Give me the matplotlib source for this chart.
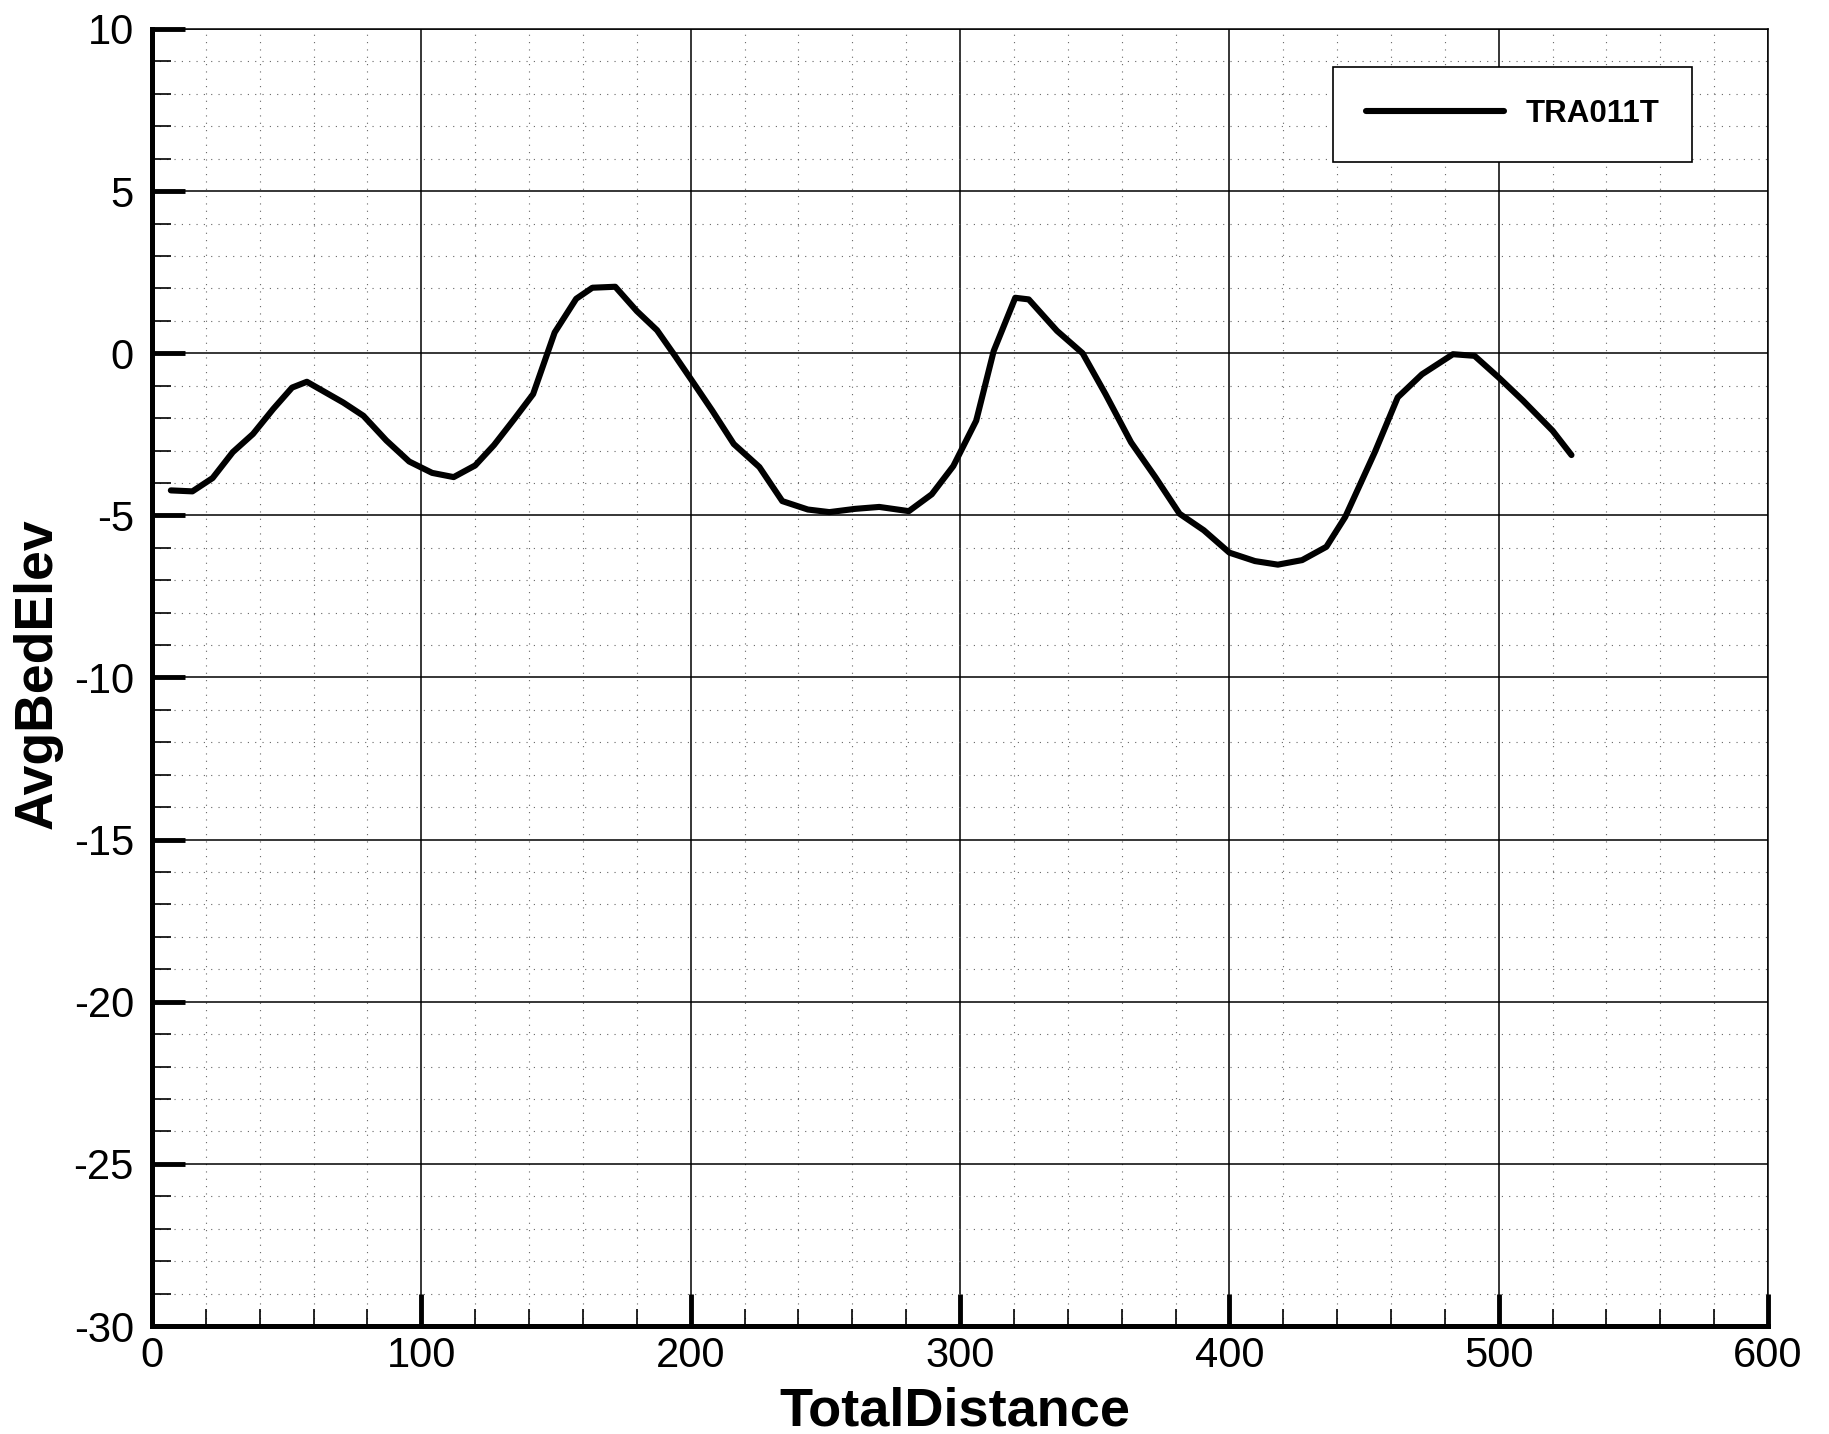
import matplotlib
matplotlib.use("Agg")
import matplotlib.pyplot as plt
from matplotlib.ticker import MultipleLocator

plt.rcParams['font.family'] = ['Liberation Sans', 'DejaVu Sans']
plt.rcParams['axes.unicode_minus'] = False

total_distance = [7, 15, 22.5, 30, 37.5, 45, 52, 57.5, 71, 78.5, 87, 95.5, 104, 112, 120, 127,
                  134.5, 141.5, 149.5, 157.5, 163.5, 172, 180, 187.5, 194, 200.5, 208, 216,
                  225.5, 234, 243.5, 251.5, 261, 270, 281, 289.5, 297.5, 306, 312.5, 320.5,
                  325.5, 336, 345.5, 354, 363.5, 372.5, 381.5, 390.5, 400, 409.5, 418, 427,
                  436, 443, 454, 462.5, 471.5, 483, 491, 500, 509, 520, 527]
avg_bed_elev = [-4.23, -4.26, -3.85, -3.05, -2.49, -1.72, -1.06, -0.88, -1.52, -1.93, -2.69,
                -3.34, -3.69, -3.82, -3.46, -2.83, -2.03, -1.26, 0.64, 1.68, 2.02, 2.05, 1.3,
                0.71, -0.06, -0.85, -1.77, -2.8, -3.51, -4.56, -4.82, -4.9, -4.8, -4.74, -4.87,
                -4.35, -3.48, -2.08, 0.07, 1.71, 1.66, 0.69, 0.0, -1.26, -2.75, -3.82, -4.95,
                -5.46, -6.15, -6.41, -6.52, -6.38, -5.97, -5.05, -3.05, -1.36, -0.65, -0.03,
                -0.08, -0.75, -1.46, -2.39, -3.14]
series_name = "TRA011T"
x_label = "TotalDistance"
y_label = "AvgBedElev"

fig = plt.figure(figsize=(18.29, 14.34), dpi=100)
ax = fig.add_axes([0.0831, 0.0753, 0.8836, 0.9045])

ax.plot(total_distance, avg_bed_elev, color='black', lw=4.4, solid_capstyle='round',
        solid_joinstyle='round', label=series_name, zorder=5)

ax.set_xlim(0, 600)
ax.set_ylim(-30, 10)
ax.xaxis.set_major_locator(MultipleLocator(100))
ax.xaxis.set_minor_locator(MultipleLocator(20))
ax.yaxis.set_major_locator(MultipleLocator(5))
ax.yaxis.set_minor_locator(MultipleLocator(1))

ax.grid(which='major', color='black', lw=1.1, ls='-')
ax.grid(which='minor', color='#666666', lw=0.8, ls=(0, (1, 5.6)))
ax.set_axisbelow(True)

for s in ['left', 'bottom']:
    ax.spines[s].set_linewidth(3.6)
for s in ['top', 'right']:
    ax.spines[s].set_linewidth(1.1)

ax.tick_params(axis='both', which='major', direction='in', width=3.5,
               top=False, right=False, labelsize=30)
ax.tick_params(axis='both', which='minor', direction='in', width=1.2,
               top=False, right=False)
ax.tick_params(axis='y', which='major', pad=13, length=24)
ax.tick_params(axis='y', which='minor', length=14)
ax.tick_params(axis='x', which='major', pad=7, length=23)
ax.tick_params(axis='x', which='minor', length=12)

ax.set_xlabel(x_label, fontsize=39, fontweight='bold')
ax.set_ylabel(y_label, fontsize=38.5, fontweight='bold')
ax.xaxis.set_label_coords(0.497, -0.047)
ax.yaxis.set_label_coords(-0.055, 0.503)

leg = ax.legend(loc='upper left', bbox_to_anchor=(0.731, 0.971), frameon=True,
                fancybox=False, edgecolor='black', framealpha=1.0,
                prop={'size': 22.5, 'weight': 'bold'}, handlelength=4.4, handletextpad=0.7,
                borderpad=1.05, borderaxespad=0.0)
leg.get_frame().set_linewidth(1.2)

fig.savefig("out.png", dpi=100, facecolor='white')
